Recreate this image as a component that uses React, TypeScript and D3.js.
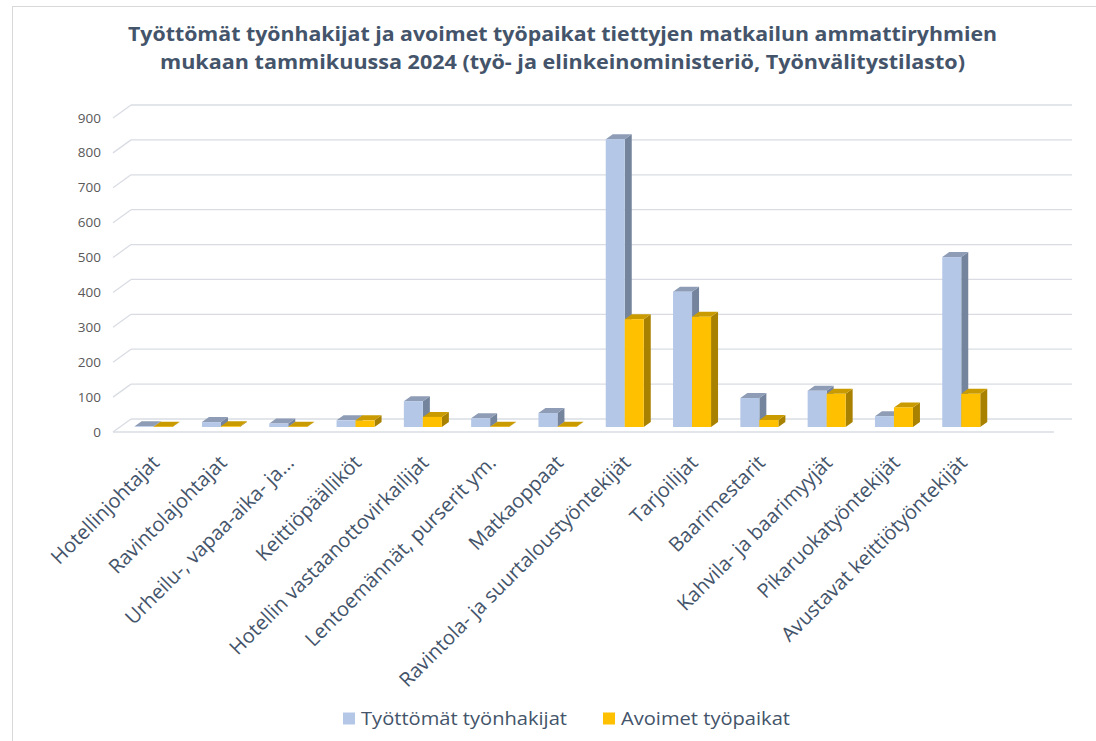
import React from "react";
import * as d3 from "d3";

const categories = [
  "Hotellinjohtajat",
  "Ravintolajohtajat",
  "Urheilu-, vapaa-aika- ja...",
  "Keittiöpäälliköt",
  "Hotellin vastaanottovirkailijat",
  "Lentoemännät, purserit ym.",
  "Matkaoppaat",
  "Ravintola- ja suurtaloustyöntekijät",
  "Tarjoilijat",
  "Baarimestarit",
  "Kahvila- ja baarimyyjät",
  "Pikaruokatyöntekijät",
  "Avustavat keittiötyöntekijät",
];
const unemployed = [2, 14, 10, 19, 74, 25, 40, 825, 388, 83, 104, 31, 487];
const vacancies = [1, 2, 1, 19, 29, 1, 1, 309, 316, 20, 95, 56, 95];
const yTicks = [0, 100, 200, 300, 400, 500, 600, 700, 800, 900];
const seriesNames = ["Työttömät työnhakijat", "Avoimet työpaikat"];
const titleLines = [
  "Työttömät työnhakijat ja avoimet työpaikat tiettyjen matkailun ammattiryhmien",
  "mukaan tammikuussa 2024 (työ- ja elinkeinoministeriö, Työnvälitystilasto)",
];

const FONT = "'Open Sans', 'DejaVu Sans', sans-serif";
const faces = [
  { front: "#B4C7E7", side: "#75849D", top: "#8E9CB6" },
  { front: "#FFC000", side: "#A98100", top: "#C99B00" },
];

export default function App() {
  const depthX = 18, depthY = -13;
  const wallLeft = 131, wallRight = 1072;
  const yBack = d3.scaleLinear().domain([0, 900]).range([419, 105]);
  const barDX = 7, barDY = -5;
  const barShiftY = 8;
  const step = 67.3;
  const x = d3
    .scaleBand<string>()
    .domain(categories)
    .range([120, 120 + step * categories.length])
    .paddingInner(0)
    .paddingOuter(0);
  const half = 19;

  const bars: JSX.Element[] = [];
  categories.forEach((c, i) => {
    const cx = (x(c) as number) + x.bandwidth() / 2;
    [unemployed[i], vacancies[i]].forEach((v, s) => {
      const x0 = s === 0 ? cx - half : cx;
      const x1 = x0 + half;
      const yb = yBack(0) + barShiftY;
      const yt = yBack(v) + barShiftY;
      const f = faces[s];
      bars.push(
        <g key={`${i}-${s}`}>
          <polygon
            points={`${x1},${yb} ${x1 + barDX},${yb + barDY} ${x1 + barDX},${yt + barDY} ${x1},${yt}`}
            fill={f.side}
          />
          <polygon
            points={`${x0},${yt} ${x1},${yt} ${x1 + barDX},${yt + barDY} ${x0 + barDX},${yt + barDY}`}
            fill={f.top}
          />
          <rect x={x0} y={yt} width={half} height={yb - yt} fill={f.front} />
        </g>
      );
    });
  });

  const gridColor = "#D9DCE3";
  const titleLens = [869, 805];
  const legendLens = [206, 169];

  return (
    <svg
      width={1096}
      height={741}
      style={{ position: "absolute", left: 0, top: 0, background: "#fff" }}
    >
      <rect x={0} y={0} width={1096} height={741} fill="#fff" />
      <rect x={12.5} y={6.5} width={1100} height={760} fill="none" stroke="#D9D9D9" strokeWidth={1} />
      {titleLines.map((t, i) => (
        <text
          key={i}
          x={562.5}
          y={41 + i * 28}
          textAnchor="middle"
          fontFamily={FONT}
          fontWeight={700}
          fontSize={19.5}
          fill="#44546A"
          textLength={titleLens[i]}
          lengthAdjust="spacingAndGlyphs"
        >
          {t}
        </text>
      ))}
      {yTicks.map((v) => (
        <g key={v}>
          <line x1={wallLeft} x2={wallRight} y1={yBack(v)} y2={yBack(v)} stroke={gridColor} strokeWidth={1.3} />
          <line
            x1={wallLeft - depthX}
            y1={yBack(v) - depthY}
            x2={wallLeft}
            y2={yBack(v)}
            stroke={gridColor}
            strokeWidth={1.3}
          />
          <text
            x={101}
            y={yBack(v) - depthY + 4.5}
            textAnchor="end"
            fontFamily={FONT}
            fontSize={13.5}
            fill="#595959"
          >
            {v}
          </text>
        </g>
      ))}
      <line
        x1={wallLeft - depthX}
        x2={wallRight - depthX}
        y1={yBack(0) - depthY}
        y2={yBack(0) - depthY}
        stroke={gridColor}
        strokeWidth={1.3}
      />
      {bars}
      {categories.map((c) => {
        const cx = (x(c) as number) + x.bandwidth() / 2;
        return (
          <text
            key={c}
            transform={`translate(${cx + 7},${464}) rotate(-45)`}
            textAnchor="end"
            fontFamily={FONT}
            fontSize={20}
            fill="#44546A"
          >
            {c}
          </text>
        );
      })}
      {seriesNames.map((n, i) => {
        const lx = i === 0 ? 343 : 603;
        return (
          <g key={n}>
            <rect x={lx} y={712.5} width={12} height={12} fill={faces[i].front} />
            <text
              x={lx + 18}
              y={725}
              fontFamily={FONT}
              fontSize={18}
              fill="#44546A"
              textLength={legendLens[i]}
              lengthAdjust="spacingAndGlyphs"
            >
              {n}
            </text>
          </g>
        );
      })}
    </svg>
  );
}
